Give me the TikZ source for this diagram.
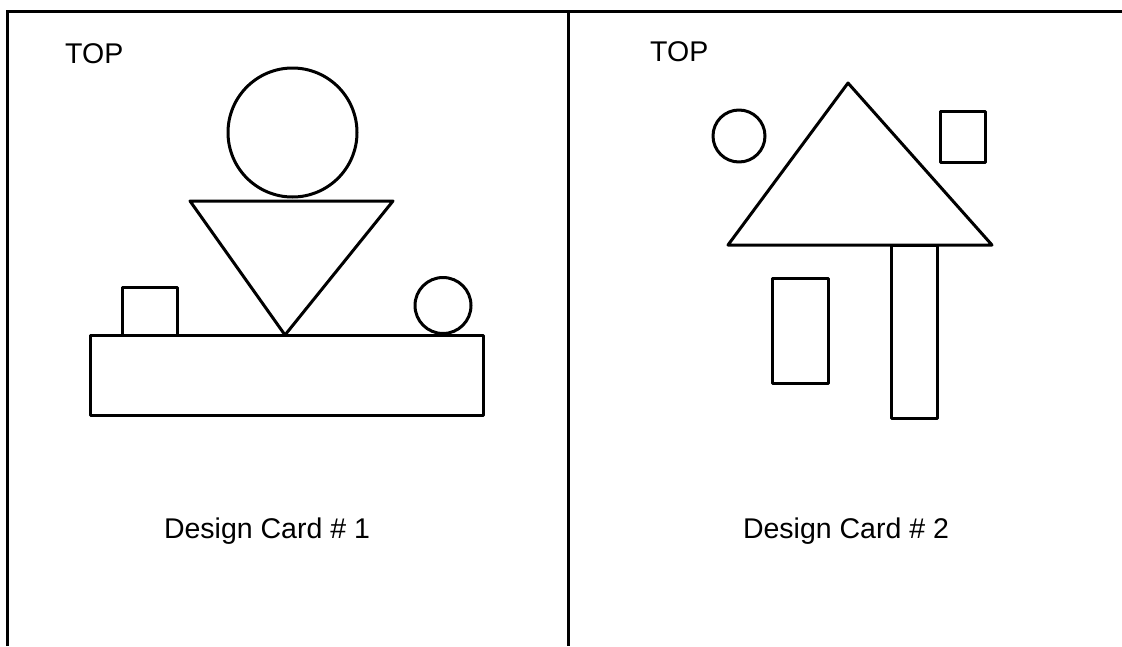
\documentclass[tikz,border=0pt]{standalone}
\usepackage{fontspec}
\setmainfont{Liberation Sans}
\begin{document}
\begin{tikzpicture}[x=1pt,y=-1pt,
  ln/.style={line width=3pt,line join=miter,line cap=butt},
  shp/.style={line width=3pt,line join=round},
  lbl/.style={font=\fontsize{28.5}{32}\selectfont,inner sep=0pt}]
\useasboundingbox (0,0) rectangle (1122,646);
% frame
\draw[ln] (7,646) -- (7,11) -- (1122,11);
\draw[ln] (568,11) -- (568,646);
% card 1
\node[lbl,anchor=base west] (top1) at (65,63) {TOP};
\draw[shp] (292.5,132.5) circle (64.5);
\draw[shp] (190,201) -- (393,201) -- (285,335) -- cycle;
\draw[shp] (122,287) rectangle (177,335);
\draw[shp] (443,305.5) circle (28);
\draw[shp] (90,335) rectangle (483,415);
\node[lbl,anchor=base] (cap1) at (267,538) {Design Card \# 1};
% card 2
\node[lbl,anchor=base west] (top2) at (650,61) {TOP};
\draw[shp] (739,136) circle (26);
\draw[shp] (940,111) rectangle (985,162);
\draw[shp] (848,83) -- (992,245) -- (728,245) -- cycle;
\draw[shp] (891,245) rectangle (937,418);
\draw[shp] (772,278) rectangle (828,383);
\node[lbl,anchor=base] (cap2) at (846,538) {Design Card \# 2};
\end{tikzpicture}
\end{document}
